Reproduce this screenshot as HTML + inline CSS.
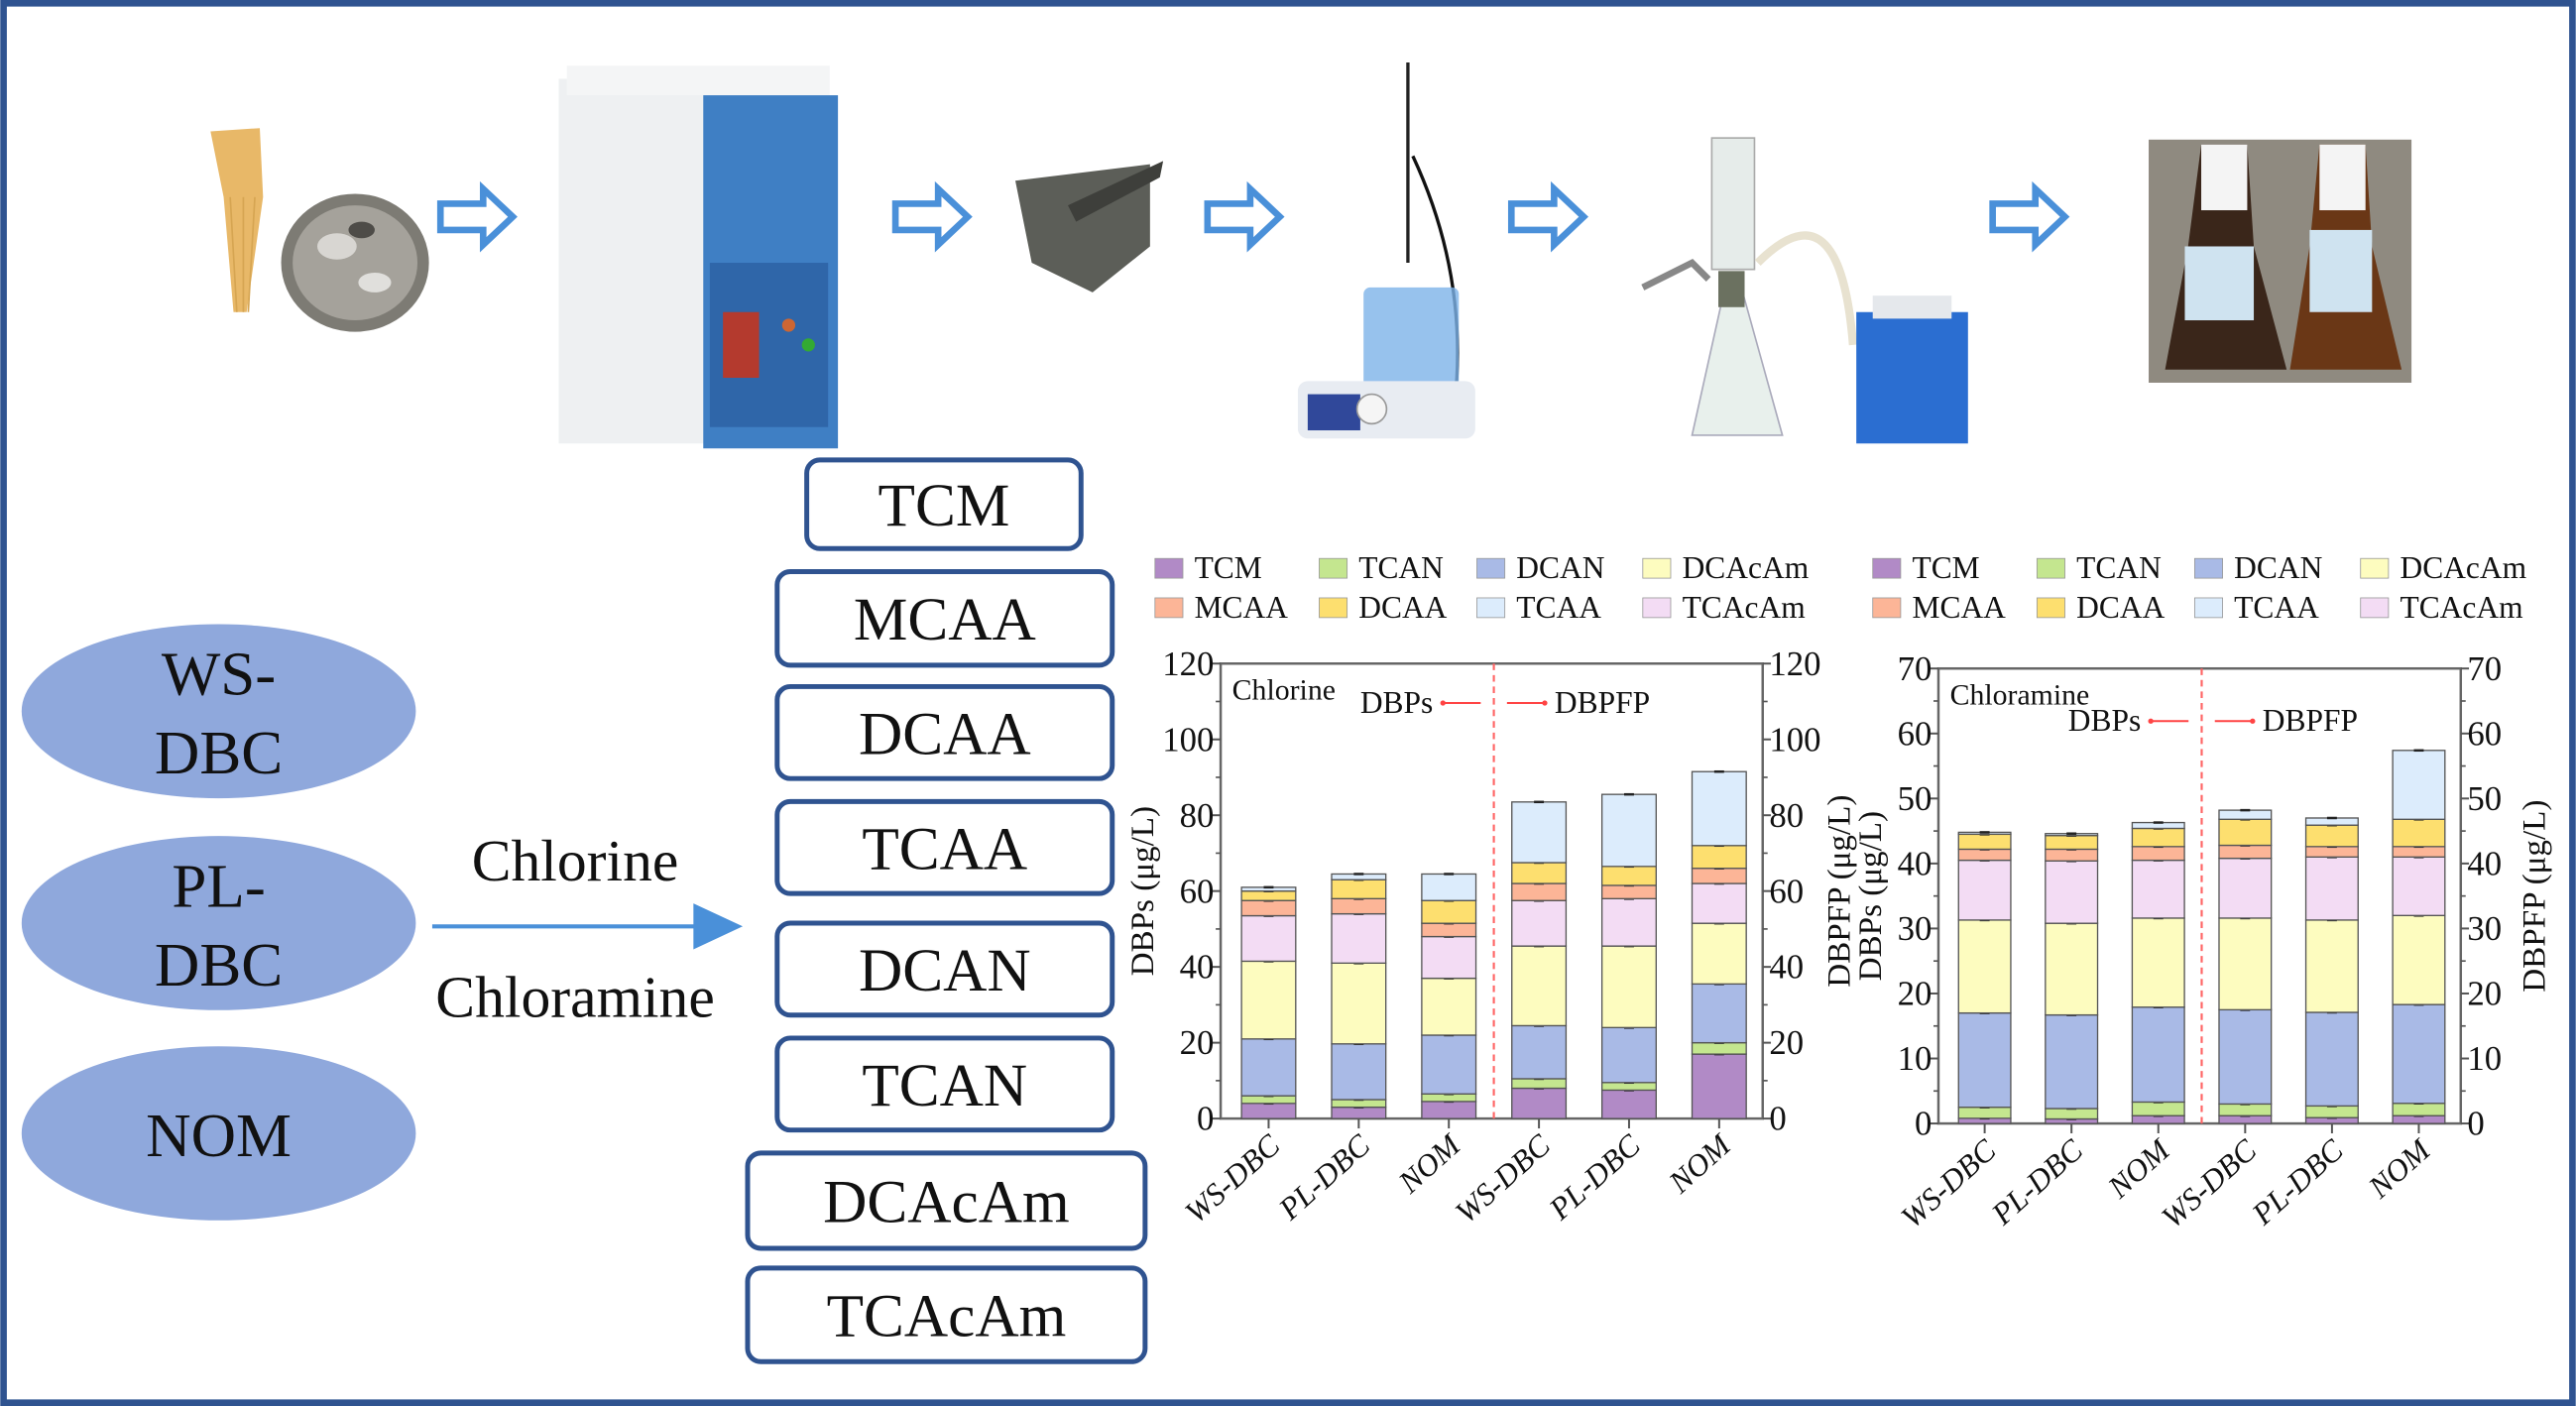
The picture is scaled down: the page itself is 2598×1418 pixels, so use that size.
<!DOCTYPE html>
<html><head><meta charset="utf-8"><style>
html,body{margin:0;padding:0;background:#fff;}
svg{display:block;}
text{font-family:"Liberation Serif",serif;fill:#111;}
</style></head><body>
<svg id="root" width="2598" height="1418" viewBox="0 0 1568 856" xmlns="http://www.w3.org/2000/svg">
<rect x="2" y="2" width="1564" height="852" fill="#fff" stroke="#2f5390" stroke-width="4"/>

<g>
  <path d="M128,80 L158,78 L160,120 L150,190 L142,190 L136,120 Z" fill="#e8b868"/>
  <g stroke="#d6a552" stroke-width="1">
    <line x1="140" y1="120" x2="144" y2="190"/><line x1="148" y1="120" x2="148" y2="190"/><line x1="155" y1="120" x2="151" y2="190"/>
  </g>
  <ellipse cx="216" cy="160" rx="45" ry="42" fill="#7d7b74"/>
  <ellipse cx="216" cy="160" rx="38" ry="35" fill="#a5a29b"/>
  <ellipse cx="205" cy="150" rx="12" ry="8" fill="#d8d6d2"/>
  <ellipse cx="228" cy="172" rx="10" ry="6" fill="#e0dfdc"/>
  <ellipse cx="220" cy="140" rx="8" ry="5" fill="#4e4c48"/>
</g>
<g>
  <rect x="340" y="48" width="92" height="222" fill="#eef0f2"/>
  <rect x="345" y="40" width="160" height="18" fill="#f4f5f6"/>
  <rect x="428" y="58" width="82" height="215" fill="#3f7fc4"/>
  <rect x="432" y="160" width="72" height="100" fill="#2f66a9"/>
  <rect x="440" y="190" width="22" height="40" fill="#b43a2e"/>
  <circle cx="480" cy="198" r="4" fill="#c63"/><circle cx="492" cy="210" r="4" fill="#3a3"/>
</g>
<g>
  <path d="M618,110 L700,100 L700,150 L665,178 L628,160 Z" fill="#5c5e58"/>
  <path d="M650,125 L708,98 L706,108 L655,135 Z" fill="#3e3f3b"/>
</g>
<g>
  <line x1="857" y1="38" x2="857" y2="160" stroke="#222" stroke-width="2"/>
  <path d="M860,95 Q895,170 885,250" stroke="#111" stroke-width="2" fill="none"/>
  <rect x="830" y="175" width="58" height="70" rx="4" fill="#7db3e8" opacity="0.8"/>
  <rect x="790" y="232" width="108" height="35" rx="6" fill="#e8ecf2"/>
  <rect x="796" y="240" width="32" height="22" fill="#30489a"/>
  <circle cx="835" cy="249" r="9" fill="#f5f5f5" stroke="#999"/>
</g>
<g>
  <rect x="1042" y="84" width="26" height="80" fill="#e6ecea" stroke="#aaa"/>
  <path d="M1050,175 L1060,175 L1085,265 L1030,265 Z" fill="#e8f0ec" stroke="#aab"/>
  <rect x="1046" y="165" width="16" height="22" fill="#6b7160"/>
  <path d="M1070,160 Q1120,110 1128,210" stroke="#e8e2d0" stroke-width="5" fill="none"/>
  <rect x="1130" y="190" width="68" height="80" fill="#2b6ed1"/>
  <rect x="1140" y="180" width="48" height="14" fill="#e5e8ec"/>
  <path d="M1000,175 L1030,160 L1040,170" stroke="#888" stroke-width="4" fill="none"/>
</g>
<g>
  <rect x="1308" y="85" width="160" height="148" fill="#8f8a80"/>
  <path d="M1340,88 L1368,88 L1372,150 L1392,225 L1318,225 L1332,150 Z" fill="#3a261a"/>
  <path d="M1412,88 L1440,88 L1444,150 L1462,225 L1394,225 L1406,150 Z" fill="#6a3716"/>
  <rect x="1330" y="150" width="42" height="45" fill="#cfe3f0"/>
  <rect x="1406" y="140" width="38" height="50" fill="#cfe3f0"/>
  <rect x="1340" y="88" width="28" height="40" fill="#f4f4f4"/>
  <rect x="1412" y="88" width="28" height="40" fill="#f4f4f4"/>
</g>
<g id="flow-arrows"></g>

<g>
  <ellipse cx="133" cy="433" rx="120" ry="53" fill="#8fa8dc"/>
  <text x="133" y="423" font-size="38" text-anchor="middle">WS-</text>
  <text x="133" y="471" font-size="38" text-anchor="middle">DBC</text>
  <ellipse cx="133" cy="562" rx="120" ry="53" fill="#8fa8dc"/>
  <text x="133" y="552" font-size="38" text-anchor="middle">PL-</text>
  <text x="133" y="600" font-size="38" text-anchor="middle">DBC</text>
  <ellipse cx="133" cy="690" rx="120" ry="53" fill="#8fa8dc"/>
  <text x="133" y="704" font-size="38" text-anchor="middle">NOM</text>
</g>
<g>
  <line x1="263" y1="564" x2="425" y2="564" stroke="#4a90d9" stroke-width="2.5"/>
  <polygon points="422,550 452,564 422,578" fill="#4a90d9"/>
  <text x="350" y="536" font-size="36" text-anchor="middle">Chlorine</text>
  <text x="350" y="619" font-size="36" text-anchor="middle">Chloramine</text>
</g>
<g id="dbp-boxes"></g>

<g id="chart1"></g>
<g id="chart2"></g>
</svg>
<script>
const species = ["TCM","TCAN","DCAN","DCAcAm","TCAcAm","MCAA","DCAA","TCAA"];
const colors = ["#b18ac6","#c4e68f","#a9bae6","#fdfcbf","#f3dcf4","#fcb597","#fddf6f","#dcecfc"];
const categories = ["WS-DBC","PL-DBC","NOM","WS-DBC","PL-DBC","NOM"];
const chlorineTCM = [4,3,4.5,8,7.5,17];
const chlorineTCAN = [2,2,2,2.5,2,3];
const chlorineDCAN = [15,14.7,15.5,14,14.5,15.5];
const chlorineDCAcAm = [20.5,21.3,15,21,21.5,16];
const chlorineTCAcAm = [12,13,11,12,12.5,10.5];
const chlorineMCAA = [4,4,3.5,4.5,3.5,4];
const chlorineDCAA = [2.5,5,6,5.5,5,6];
const chlorineTCAA = [1,1.5,7,16,19,19.5];
const chloramineTCM = [0.8,0.7,1.2,1.2,0.9,1.2];
const chloramineTCAN = [1.7,1.6,2.1,1.8,1.8,1.9];
const chloramineDCAN = [14.5,14.4,14.6,14.5,14.4,15.2];
const chloramineDCAcAm = [14.3,14.1,13.7,14.1,14.2,13.7];
const chloramineTCAcAm = [9.2,9.6,8.9,9.2,9.7,9];
const chloramineMCAA = [1.7,1.8,2.1,2,1.6,1.6];
const chloramineDCAA = [2.3,2.1,2.8,4,3.3,4.2];
const chloramineTCAA = [0.3,0.3,0.9,1.4,1.1,10.6];
const chlorineTicks = [0,20,40,60,80,100,120];
const chloramineTicks = [0,10,20,30,40,50,60,70];

const NS="http://www.w3.org/2000/svg";
function mk(parent, tag, attrs, txt){
  const e=document.createElementNS(NS,tag);
  for(const k in attrs) e.setAttribute(k,attrs[k]);
  if(txt!==undefined) e.textContent=txt;
  parent.appendChild(e); return e;
}

const fa=document.getElementById('flow-arrows');
[268,545,735,920,1213].forEach(x=>{
  const p=mk(fa,'path',{d:`M${x},124 L${x+26},124 L${x+26},115 L${x+44},132 L${x+26},149 L${x+26},140 L${x},140 Z`,fill:'#fff',stroke:'#4a90d9','stroke-width':4});
  
  
});

const boxes=[["TCM",491,280,167,54],["MCAA",473,348,204,57],["DCAA",473,418,204,56],["TCAA",473,488,204,56],["DCAN",473,562,204,56],["TCAN",473,632,204,56],["DCAcAm",455,702,242,58],["TCAcAm",455,772,242,57]];
const bg=document.getElementById('dbp-boxes');
boxes.forEach(b=>{
  const g=mk(bg,'g',{});
  
  
  mk(g,'rect',{x:b[1],y:b[2],width:b[3],height:b[4],rx:8,fill:'#fff',stroke:'#2f5390','stroke-width':3});
  mk(g,'text',{x:b[1]+b[3]/2,y:b[2]+b[4]/2+13,'font-size':37,'text-anchor':'middle'},b[0]);
});

function chart(id, data, ticks, ymax, L, R, T, B, legX, legY, label, rightTitleX, leftTitleX){
  const g=document.getElementById(id);
  const ys=v=>B-(v/ymax)*(B-T);
  const xs=i=>L+(R-L)*(0.0885+i*(0.9197-0.0885)/5);
  const bw=(R-L)*0.1;
  const legItems=[["TCM",0],["TCAN",1],["DCAN",2],["DCAcAm",3],["MCAA",5],["DCAA",6],["TCAA",7],["TCAcAm",4]];
  const lx=[0,100,196,297];
  legItems.forEach((it,k)=>{
    const x=legX+lx[k%4], y=legY+Math.floor(k/4)*24;
    const lg=mk(g,'g',{});
    
    
    mk(lg,'rect',{x:x,y:y-11,width:17,height:12,fill:colors[it[1]],stroke:'#999','stroke-width':0.5});
    mk(lg,'text',{x:x+24,y:y+1,'font-size':19},it[0]);
  });
  mk(g,'rect',{x:L,y:T,width:R-L,height:B-T,fill:'#fff',stroke:'#666','stroke-width':1.5});
  categories.forEach((c,i)=>{
    let cum=0;
    data.forEach((arr,s)=>{
      const v=arr[i];
      const r=mk(g,'rect',{x:xs(i)-bw/2,y:ys(cum+v),width:bw,height:ys(cum)-ys(cum+v),fill:colors[s],stroke:'#555','stroke-width':0.8});
      
      
      cum+=v;
      mk(g,'line',{x1:xs(i)-3,x2:xs(i)+3,y1:ys(cum),y2:ys(cum),stroke:'#222','stroke-width':1.5});
    });
    mk(g,'line',{x1:xs(i),x2:xs(i),y1:B,y2:B+6,stroke:'#555','stroke-width':1.2});
    const t=mk(g,'text',{x:xs(i)+8,y:B+18,'font-size':19,'text-anchor':'end','font-style':'italic',transform:`rotate(-42 ${xs(i)+8} ${B+18})`},c);
    
    
  });
  ticks.forEach(v=>{
    mk(g,'line',{x1:L-5,x2:L,y1:ys(v),y2:ys(v),stroke:'#555','stroke-width':1.2});
    mk(g,'line',{x1:R,x2:R+5,y1:ys(v),y2:ys(v),stroke:'#555','stroke-width':1.2});
    mk(g,'text',{x:L-4,y:ys(v)+7,'font-size':21,'text-anchor':'end'},String(v));
    mk(g,'text',{x:R+4,y:ys(v)+7,'font-size':21},String(v));
  });
  for(let k=0;k<ticks.length-1;k++){
    const v=(ticks[k]+ticks[k+1])/2;
    mk(g,'line',{x1:L-3,x2:L,y1:ys(v),y2:ys(v),stroke:'#555'});
    mk(g,'line',{x1:R,x2:R+3,y1:ys(v),y2:ys(v),stroke:'#555'});
  }
  const dx=L+(R-L)*0.504;
  mk(g,'line',{x1:dx,x2:dx,y1:T,y2:B,stroke:'#f66','stroke-width':1.3,'stroke-dasharray':'4,3'});
  mk(g,'text',{x:L+7,y:T+22,'font-size':18},label);
  const dy=id==='chart1'?T+30:T+38;
  mk(g,'text',{x:dx-37,y:dy,'font-size':19,'text-anchor':'end'},'DBPs');
  mk(g,'line',{x1:dx-32,x2:dx-8,y1:dy-6,y2:dy-6,stroke:'#f44','stroke-width':1.2});
  mk(g,'circle',{cx:dx-31,cy:dy-6,r:1.6,fill:'#f44'});
  mk(g,'line',{x1:dx+8,x2:dx+32,y1:dy-6,y2:dy-6,stroke:'#f44','stroke-width':1.2});
  mk(g,'circle',{cx:dx+31,cy:dy-6,r:1.6,fill:'#f44'});
  mk(g,'text',{x:dx+37,y:dy,'font-size':19},'DBPFP');
  const lt=mk(g,'text',{x:leftTitleX,y:(T+B)/2,'font-size':20,'text-anchor':'middle',transform:`rotate(-90 ${leftTitleX} ${(T+B)/2})`},'DBPs (μg/L)');
  
  
  const rt=mk(g,'text',{x:rightTitleX,y:(T+B)/2,'font-size':20,'text-anchor':'middle',transform:`rotate(-90 ${rightTitleX} ${(T+B)/2})`},'DBPFP (μg/L)');
  
  
}
chart('chart1',[chlorineTCM,chlorineTCAN,chlorineDCAN,chlorineDCAcAm,chlorineTCAcAm,chlorineMCAA,chlorineDCAA,chlorineTCAA],chlorineTicks,120,743,1073,404,681,703,351,'Chlorine',1126,702);
chart('chart2',[chloramineTCM,chloramineTCAN,chloramineDCAN,chloramineDCAcAm,chloramineTCAcAm,chloramineMCAA,chloramineDCAA,chloramineTCAA],chloramineTicks,70,1180,1498,407,684,1140,351,'Chloramine',1549,1145);
</script>
</body></html>
